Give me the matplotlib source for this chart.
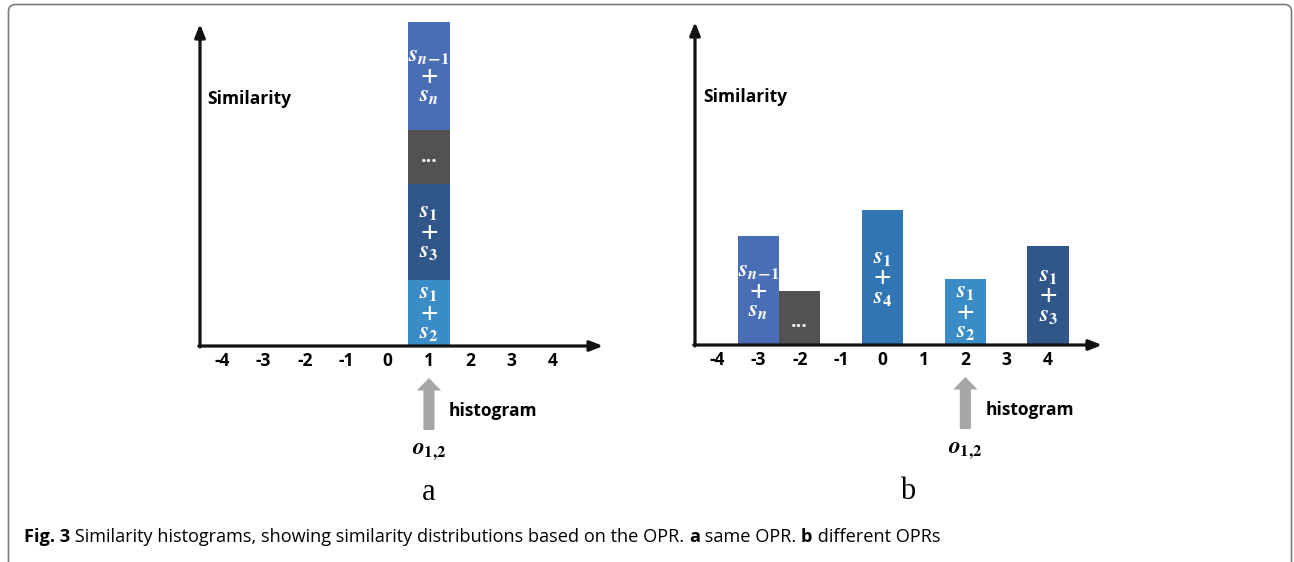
import matplotlib
matplotlib.use("Agg")
import matplotlib.pyplot as plt
from matplotlib.patches import FancyBboxPatch

plt.rcParams['mathtext.fontset'] = 'custom'
plt.rcParams['mathtext.it'] = 'STIXGeneral:italic:bold'
plt.rcParams['mathtext.rm'] = 'STIXGeneral:bold'
plt.rcParams['mathtext.bf'] = 'STIXGeneral:bold'
plt.rcParams['font.family'] = ['Open Sans', 'DejaVu Sans']

# ---------------- data ----------------
tick_values = [-4, -3, -2, -1, 0, 1, 2, 3, 4]
tick_labels = ['-4', '-3', '-2', '-1', '0', '1', '2', '3', '4']

# panel a: one stacked bar at offset 1 (segments bottom -> top)
a_position = 1
a_segments = [6.6, 9.6, 5.4, 10.8]
a_labels = [r'$s_1$|$+$|$s_2$', r'$s_1$|$+$|$s_3$', '...', r'$s_{n\!-\!1}$|$+$|$s_n$']
a_colors = ['#3A8CC6', '#31568A', '#525252', '#4A6EB5']

# panel b: separate bars
b_positions = [-3, -2, 0, 2, 4]
b_values = [10.9, 5.4, 13.5, 6.6, 9.9]
b_labels = [r'$s_{n\!-\!1}$|$+$|$s_n$', '...', r'$s_1$|$+$|$s_4$', r'$s_1$|$+$|$s_2$', r'$s_1$|$+$|$s_3$']
b_colors = ['#4A6EB5', '#525252', '#3175B2', '#3A8CC6', '#31568A']

offset_a = 1
offset_b = 2
# --------------------------------------

W, H = 1294, 562
fig = plt.figure(figsize=(W / 100, H / 100), dpi=100)

# overlay for frame / caption
ov = fig.add_axes([0, 0, 1, 1])
ov.set_xlim(0, W)
ov.set_ylim(H, 0)
ov.axis('off')
frame = FancyBboxPatch((8.5, 4.5), 1283, 600, boxstyle='round,pad=0,rounding_size=7',
                       fill=False, edgecolor='#7a7a7a', lw=1.2)
ov.add_patch(frame)


def make_axes(left_px, right_px, bottom_px, top_px, xmin):
    ax = fig.add_axes([left_px / W, 1 - bottom_px / H, (right_px - left_px) / W,
                       (bottom_px - top_px) / H])
    ppu = 41.4
    ax.set_xlim(xmin, xmin + (right_px - left_px) / ppu)
    ax.set_ylim(0, (bottom_px - top_px) / 10)
    for s in ax.spines.values():
        s.set_visible(False)
    ax.set_yticks([])
    ax.set_xticks(tick_values)
    ax.set_xticklabels(tick_labels, fontweight='bold', fontsize=12.5)
    ax.tick_params(axis='x', length=0, pad=4)
    ax.patch.set_alpha(0)
    return ax


def axis_arrows(ax, xend, ytop):
    ap = dict(arrowstyle='-|>,head_length=0.55,head_width=0.22', lw=2.3, color='#111111',
              shrinkA=0, shrinkB=0, mutation_scale=14)
    ax.annotate('', xy=(xend, 0), xytext=(-0.003, 0), xycoords='axes fraction', arrowprops=ap)
    ax.annotate('', xy=(0, ytop), xytext=(0, -0.003), xycoords='axes fraction', arrowprops=ap)


def bar_label(ax, x, ycenter, label):
    if label == '...':
        ax.text(x, ycenter, '...', color='white', ha='center', va='center',
                fontsize=14, fontweight='bold')
        return
    ax.text(x, ycenter, '\n'.join(label.split('|')), ha='center', va='center',
            multialignment='center', color='white', fontsize=17, linespacing=0.78, zorder=3)


def pointer(ax, x, label_letter, letter_x):
    ax.annotate('', xy=(x, -3.2), xytext=(x, -8.4), annotation_clip=False,
                arrowprops=dict(arrowstyle='simple,head_length=9,head_width=17.5,tail_width=8',
                                mutation_scale=1, color='#A6A6A6', lw=0, shrinkA=0, shrinkB=0))
    ax.text(x + 0.48, -6.5, 'histogram', fontsize=12.5, fontweight='bold', ha='left',
            va='center', clip_on=False)
    ax.text(x, -10.4, r'$o_{\mathbf{1{,}2}}$', fontsize=17, ha='center', va='center',
            clip_on=False)
    ax.text(letter_x, -14.7, label_letter, fontsize=22, family='Liberation Serif',
            ha='center', va='center', clip_on=False)


# ---- panel a ----
axa = make_axes(200, 605, 346, 18, -4.53)
bottom = 0
for h, lab, c in zip(a_segments, a_labels, a_colors):
    axa.bar(a_position, h, bottom=bottom, width=1.0, color=c, linewidth=0, zorder=2)
    bar_label(axa, a_position, bottom + h / 2, lab)
    bottom += h
axis_arrows(axa, (603 - 200) / 405, (346 - 24) / 328)
axa.text(-4.35, 24.7, 'Similarity', fontsize=12.5, fontweight='bold', ha='left', va='center')
pointer(axa, offset_a, 'a', offset_a)

# ---- panel b ----
axb = make_axes(695, 1105, 345, 18, -4.53)
for x, h, lab, c in zip(b_positions, b_values, b_labels, b_colors):
    axb.bar(x, h, width=1.0, color=c, linewidth=0, zorder=2)
    bar_label(axb, x, h / 2 - (0.4 if lab == '...' else 0), lab)
axis_arrows(axb, (1102 - 695) / 410, (345 - 22) / 327)
axb.text(-4.34, 24.8, 'Similarity', fontsize=12.5, fontweight='bold', ha='left', va='center')
pointer(axb, offset_b, 'b', 0.6)

# ---- caption ----
pieces = [('Fig. 3', 'bold'),
          (' Similarity histograms, showing similarity distributions based on the OPR. ', 'normal'),
          ('a', 'bold'), (' same OPR. ', 'normal'), ('b', 'bold'), (' different OPRs', 'normal')]
fig.canvas.draw()
renderer = fig.canvas.get_renderer()
xpos = 24
for txt, wt in pieces:
    t = ov.text(xpos, 537, txt, fontsize=13.1, fontweight=wt, ha='left', va='center',
                family='Open Sans')
    bb = t.get_window_extent(renderer=renderer)
    xpos += bb.width

fig.savefig('out.png', dpi=100)
